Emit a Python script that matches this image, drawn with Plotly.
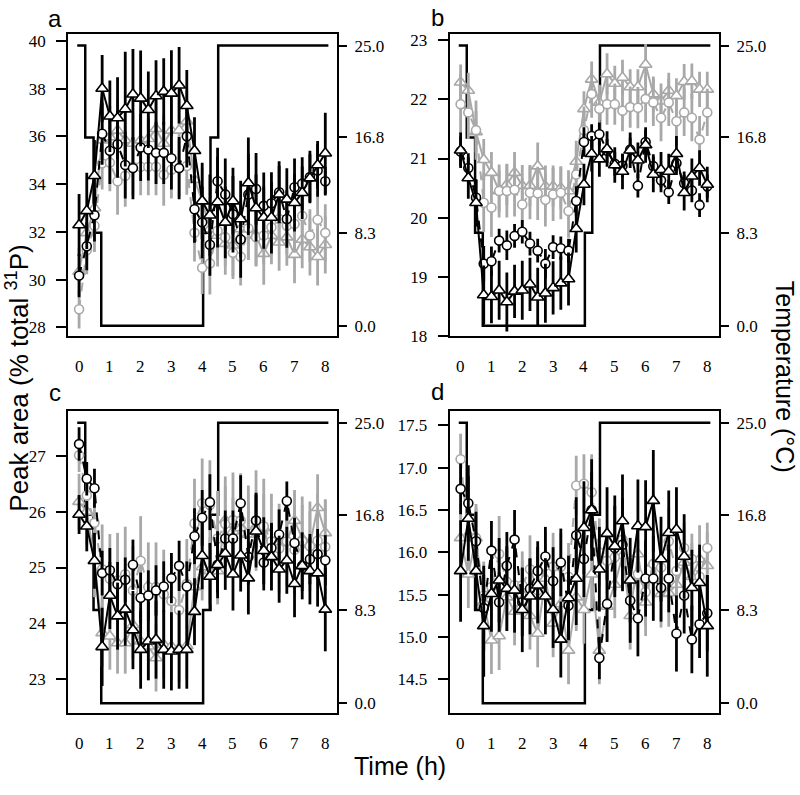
import plotly.graph_objects as go

# ---------------- data ----------------
time_h = [0, 0.25, 0.5, 0.75, 1, 1.25, 1.5, 1.75, 2, 2.25, 2.5, 2.75, 3, 3.25, 3.5, 3.75,
          4, 4.25, 4.5, 4.75, 5, 5.25, 5.5, 5.75, 6, 6.25, 6.5, 6.75, 7, 7.25, 7.5, 7.75, 8]
x_ticks = [0, 1, 2, 3, 4, 5, 6, 7, 8]

temp_time = [-0.06, 0.2, 0.47, 0.72, 4.03, 4.27, 4.52, 8.1]
temp_val = [25.0, 16.8, 8.3, 0.0, 8.3, 16.8, 25.0, 25.0]
temp_ticks = [0.0, 8.3, 16.8, 25.0]
temp_ticktext = ["0.0", "8.3", "16.8", "25.0"]

# panel a
a_bt = [32.29, 32.88, 34.35, 38.0, 36.84, 36.77, 37.14, 37.76, 37.59, 37.11, 37.69, 37.87, 37.80, 38.14, 37.28, 35.40,
        33.29, 32.70, 33.25, 32.40, 33.29, 32.54, 34.05, 33.0, 32.60, 32.60, 33.57, 33.36, 33.22, 33.64, 34.25, 34.80, 35.29]
a_bt_err = [1.3, 1.6, 1.5, 1.4, 1.5, 1.7, 2.4, 1.9, 2.0, 1.6, 1.5, 1.4, 1.8, 1.6, 1.5, 1.4,
            1.6, 1.7, 1.9, 1.5, 1.4, 1.6, 1.9, 1.4, 1.3, 1.5, 1.2, 1.3, 1.2, 1.1, 1.0, 1.0, 1.7]
a_bc = [30.17, 31.40, 32.70, 36.11, 35.40, 35.67, 34.80, 34.67, 35.53, 35.45, 35.31, 35.31, 35.08, 34.67, 36.0, 32.95,
        32.40, 31.46, 34.12, 33.57, 32.74, 31.68, 33.57, 33.80, 33.09, 33.20, 33.66, 32.54, 33.87, 34.02, 34.30, 34.57, 34.12]
a_bc_err = [0.9, 1.0, 1.1, 1.3, 1.4, 1.4, 1.4, 1.3, 1.4, 1.3, 1.3, 1.3, 1.3, 1.3, 1.3, 1.4,
            1.5, 1.3, 1.4, 1.5, 1.6, 1.6, 1.7, 1.5, 1.4, 1.3, 1.3, 1.2, 1.2, 1.1, 1.1, 1.1, 0.6]
a_gc = [28.76, 31.23, 32.26, 34.87, 34.90, 34.12, 34.35, 34.73, 34.73, 34.73, 34.73, 34.39, 34.60, 34.67, 34.76, 31.96,
        30.50, 30.68, 32.05, 31.78, 31.13, 30.96, 32.15, 31.78, 31.85, 32.19, 32.54, 32.26, 32.33, 32.67, 31.85, 32.51, 31.96]
a_gc_err = [0.8, 1.0, 1.1, 1.1, 1.2, 1.4, 1.3, 1.2, 1.2, 1.2, 1.2, 1.3, 1.2, 1.2, 1.2, 1.2,
            1.1, 1.3, 1.2, 1.2, 1.1, 1.2, 1.3, 1.2, 1.2, 1.2, 1.1, 1.2, 1.2, 1.2, 1.1, 1.2, 1.2]
a_gt = [30.34, 31.96, 33.0, 35.84, 35.97, 36.25, 35.84, 35.70, 35.84, 35.90, 36.32, 35.70, 36.25, 36.25, 36.63, 34.19,
        33.29, 32.12, 31.85, 31.51, 31.44, 32.12, 32.12, 31.85, 31.09, 31.85, 31.57, 31.78, 31.05, 31.68, 31.37, 30.96, 31.46]
a_gt_err = [1.0, 1.1, 1.2, 1.2, 1.3, 1.3, 1.3, 1.3, 1.3, 1.2, 1.3, 1.2, 1.3, 1.3, 1.3, 1.3,
            1.4, 1.3, 1.3, 1.3, 1.3, 1.2, 1.3, 1.3, 1.3, 1.2, 1.2, 1.2, 1.2, 1.2, 1.2, 1.2, 1.2]

# panel b
b_bt = [21.14, 20.67, 20.25, 18.69, 18.66, 18.77, 18.57, 18.75, 18.77, 18.87, 18.65, 18.72, 18.81, 18.89, 18.96, 19.81,
        20.56, 21.08, 20.99, 21.16, 20.89, 20.78, 21.14, 20.97, 21.23, 20.73, 20.81, 20.78, 21.08, 20.42, 20.70, 20.84, 20.56]
b_bt_err = [0.3, 0.35, 0.4, 0.5, 0.45, 0.5, 0.5, 0.45, 0.5, 0.45, 0.5, 0.5, 0.45, 0.45, 0.45, 0.4,
            0.35, 0.3, 0.3, 0.3, 0.3, 0.3, 0.3, 0.3, 0.3, 0.3, 0.3, 0.3, 0.3, 0.3, 0.3, 0.3, 0.3]
b_bc = [21.12, 20.84, 20.34, 19.22, 19.26, 19.61, 19.53, 19.69, 19.76, 19.56, 19.44, 19.22, 19.50, 19.48, 19.44, 20.28,
        21.28, 21.38, 21.41, 21.13, 20.91, 20.88, 21.15, 20.54, 21.28, 20.87, 20.63, 20.43, 20.92, 20.58, 20.46, 20.21, 20.53]
b_bc_err = [0.25, 0.25, 0.3, 0.3, 0.25, 0.2, 0.25, 0.2, 0.2, 0.2, 0.2, 0.25, 0.2, 0.2, 0.2, 0.25,
            0.25, 0.2, 0.2, 0.2, 0.2, 0.2, 0.2, 0.2, 0.2, 0.2, 0.2, 0.2, 0.2, 0.2, 0.2, 0.2, 0.2]
b_gc = [21.92, 21.78, 21.48, 20.25, 20.17, 20.45, 20.45, 20.47, 20.22, 20.42, 20.41, 20.30, 20.39, 20.42, 20.11, 20.73,
        21.48, 22.09, 21.84, 21.92, 21.92, 21.81, 21.87, 21.86, 22.01, 21.95, 21.69, 21.95, 21.63, 21.78, 21.69, 21.32, 21.78]
b_gc_err = [0.5, 0.45, 0.5, 0.5, 0.5, 0.45, 0.45, 0.45, 0.45, 0.45, 0.45, 0.45, 0.45, 0.45, 0.45, 0.45,
            0.4, 0.4, 0.4, 0.35, 0.35, 0.35, 0.35, 0.35, 0.4, 0.4, 0.4, 0.4, 0.4, 0.4, 0.4, 0.4, 0.4]
b_gt = [22.29, 22.15, 21.45, 20.98, 20.76, 20.45, 20.56, 20.76, 20.54, 20.54, 20.87, 20.53, 20.53, 20.50, 20.45, 20.95,
        21.84, 22.34, 21.95, 22.43, 22.27, 22.37, 22.21, 22.21, 22.59, 22.09, 21.97, 22.15, 22.06, 22.30, 22.31, 22.17, 22.17]
b_gt_err = [0.3, 0.3, 0.35, 0.35, 0.35, 0.35, 0.35, 0.35, 0.35, 0.35, 0.4, 0.35, 0.35, 0.35, 0.35, 0.35,
            0.3, 0.3, 0.3, 0.35, 0.3, 0.3, 0.3, 0.3, 0.35, 0.3, 0.3, 0.3, 0.3, 0.3, 0.3, 0.3, 0.3]

# panel c
c_bt = [25.95, 25.74, 25.12, 23.58, 24.50, 24.13, 24.25, 23.88, 23.53, 23.68, 23.71, 23.53, 23.50, 23.53, 23.53, 24.21,
        25.21, 24.84, 25.05, 25.25, 24.88, 25.22, 24.81, 25.65, 25.30, 25.19, 24.97, 25.13, 24.71, 25.03, 24.94, 24.90, 24.25]
c_bt_err = [0.35, 0.45, 0.5, 0.7, 0.6, 0.6, 0.65, 0.7, 0.7, 0.7, 0.7, 0.7, 0.7, 0.7, 0.7, 0.6,
            0.6, 0.6, 0.6, 0.65, 0.65, 0.65, 0.65, 0.65, 0.6, 0.6, 0.6, 0.6, 0.6, 0.6, 0.6, 0.6, 0.75]
c_bc = [27.21, 26.59, 26.42, 24.90, 24.95, 24.70, 24.78, 25.05, 24.46, 24.50, 24.59, 24.66, 24.81, 25.03, 24.66, 25.56,
        25.89, 26.17, 25.05, 25.52, 25.52, 26.15, 25.19, 25.84, 25.09, 25.35, 25.59, 26.19, 25.44, 25.03, 25.15, 25.24, 25.13]
c_bc_err = [0.3, 0.3, 0.35, 0.4, 0.4, 0.4, 0.4, 0.45, 0.45, 0.45, 0.45, 0.45, 0.45, 0.45, 0.45, 0.5,
            0.5, 0.5, 0.5, 0.5, 0.5, 0.5, 0.5, 0.5, 0.5, 0.45, 0.45, 0.35, 0.45, 0.45, 0.45, 0.45, 0.45]
c_gc = [27.01, 26.29, 25.80, 24.97, 24.80, 24.77, 24.88, 24.59, 25.12, 24.65, 24.65, 24.52, 24.40, 24.24, 24.71, 25.79,
        26.15, 26.12, 25.52, 25.78, 25.85, 25.84, 25.62, 25.84, 25.74, 25.47, 25.34, 25.47, 25.32, 25.47, 25.38, 25.48, 25.37]
c_gc_err = [0.3, 0.4, 0.6, 0.8, 0.8, 0.85, 0.85, 0.8, 0.8, 0.8, 0.8, 0.8, 0.8, 0.8, 0.8, 0.8,
            0.8, 0.8, 0.85, 0.85, 0.85, 0.85, 0.85, 0.9, 0.85, 0.85, 0.8, 0.8, 0.8, 0.8, 0.8, 0.85, 0.85]
c_gt = [26.18, 26.0, 25.12, 23.83, 23.77, 23.65, 23.65, 23.97, 23.68, 23.59, 23.38, 23.62, 23.59, 23.56, 23.60, 24.65,
        25.01, 24.94, 24.94, 25.85, 25.65, 25.71, 25.59, 25.74, 25.71, 25.19, 25.44, 25.47, 25.84, 25.52, 25.41, 26.07, 25.62]
c_gt_err = [0.5, 0.6, 0.65, 0.6, 0.6, 0.55, 0.55, 0.6, 0.6, 0.6, 0.6, 0.6, 0.6, 0.6, 0.6, 0.6,
            0.6, 0.6, 0.6, 0.6, 0.6, 0.6, 0.6, 0.6, 0.6, 0.6, 0.6, 0.6, 0.55, 0.6, 0.6, 0.6, 0.6]

# panel d
d_bt = [15.78, 16.40, 15.78, 15.13, 15.51, 15.67, 15.57, 15.55, 15.32, 15.48, 15.61, 15.48, 15.32, 14.97, 15.46, 15.69,
        16.29, 16.50, 15.80, 16.22, 16.07, 16.37, 15.67, 16.31, 16.30, 16.61, 15.92, 16.23, 16.27, 15.95, 15.58, 15.64, 15.13]
d_bt_err = [0.6, 0.5, 0.45, 0.6, 0.45, 0.5, 0.5, 0.5, 0.5, 0.45, 0.45, 0.45, 0.45, 0.45, 0.5, 0.55,
            0.55, 0.6, 0.5, 0.55, 0.6, 0.55, 0.5, 0.55, 0.55, 0.6, 0.5, 0.5, 0.5, 0.5, 0.45, 0.45, 0.6]
d_bc = [16.75, 16.58, 16.13, 15.34, 16.02, 15.41, 15.84, 16.15, 15.41, 15.57, 15.78, 15.95, 15.66, 15.88, 15.37, 16.20,
        15.92, 16.50, 14.75, 15.39, 16.05, 16.09, 15.43, 15.22, 15.69, 15.69, 15.58, 15.69, 15.04, 15.49, 14.97, 15.15, 15.28]
d_bc_err = [0.3, 0.45, 0.35, 0.5, 0.35, 0.35, 0.4, 0.35, 0.4, 0.35, 0.35, 0.35, 0.4, 0.4, 0.4, 0.45,
            0.45, 0.45, 0.25, 0.45, 0.5, 0.55, 0.5, 0.45, 0.45, 0.5, 0.4, 0.4, 0.45, 0.45, 0.4, 0.4, 0.45]
d_gc = [17.10, 16.19, 16.17, 15.49, 15.59, 15.98, 15.65, 15.61, 15.61, 15.80, 15.55, 15.84, 15.83, 15.83, 15.71, 16.79,
        16.81, 16.71, 16.00, 15.90, 15.94, 16.15, 15.43, 15.74, 15.53, 15.86, 15.82, 16.13, 15.78, 16.05, 15.92, 15.71, 16.05]
d_gc_err = [0.3, 0.35, 0.35, 0.4, 0.4, 0.45, 0.4, 0.4, 0.4, 0.4, 0.4, 0.4, 0.4, 0.4, 0.4, 0.35,
            0.35, 0.45, 0.4, 0.4, 0.4, 0.4, 0.4, 0.4, 0.4, 0.4, 0.4, 0.4, 0.4, 0.3, 0.3, 0.3, 0.3]
d_gt = [16.17, 15.74, 16.17, 15.41, 14.96, 15.01, 15.47, 15.30, 15.50, 15.25, 15.04, 15.69, 15.16, 15.39, 14.84, 15.47,
        15.32, 15.74, 14.84, 15.36, 15.62, 15.96, 15.25, 15.98, 15.41, 15.87, 15.51, 15.52, 15.62, 15.88, 15.71, 15.92, 15.84]
d_gt_err = [0.4, 0.4, 0.4, 0.4, 0.4, 0.4, 0.4, 0.4, 0.4, 0.4, 0.4, 0.4, 0.4, 0.4, 0.4, 0.4,
            0.4, 0.4, 0.4, 0.4, 0.4, 0.4, 0.4, 0.4, 0.4, 0.4, 0.4, 0.4, 0.4, 0.4, 0.4, 0.4, 0.4]

panel_labels = ["a", "b", "c", "d"]
a_ticks = [28, 30, 32, 34, 36, 38, 40]
b_ticks = [18, 19, 20, 21, 22, 23]
c_ticks = [23, 24, 25, 26, 27]
d_ticks = [14.5, 15.0, 15.5, 16.0, 16.5, 17.0, 17.5]

# ---------------- layout geometry ----------------
W, H = 800, 795
BLACK = "#000000"
GRAY = "#a8a8a8"
SERIF = "Liberation Serif, Times New Roman, serif"
SANS = "Liberation Sans, Arial, sans-serif"

panels = [
    dict(series=[(a_gt, a_gt_err), (a_gc, a_gc_err), (a_bc, a_bc_err), (a_bt, a_bt_err)],
         xpx=(68, 337), ypx=(32.3, 339), yr=[27.63, 40.29], ticks=a_ticks, fmt="d", y2r=[-0.95, 26.05], xlab_y=370),
    dict(series=[(b_gt, b_gt_err), (b_gc, b_gc_err), (b_bc, b_bc_err), (b_bt, b_bt_err)],
         xpx=(449.5, 719), ypx=(32.3, 339), yr=[17.99, 23.11], ticks=b_ticks, fmt="d", y2r=[-0.95, 26.05], xlab_y=370),
    dict(series=[(c_gt, c_gt_err), (c_gc, c_gc_err), (c_bc, c_bc_err), (c_bt, c_bt_err)],
         xpx=(68, 337), ypx=(414.3, 721), yr=[22.395, 27.81], ticks=c_ticks, fmt="d", y2r=[-0.88, 26.09], xlab_y=752),
    dict(series=[(d_gt, d_gt_err), (d_gc, d_gc_err), (d_bc, d_bc_err), (d_bt, d_bt_err)],
         xpx=(449.5, 719), ypx=(414.3, 721), yr=[14.1, 17.675], ticks=d_ticks, fmt=".1f", y2r=[-0.88, 26.09], xlab_y=752),
]

styles = [  # gray triangles, gray circles, black circles, black triangles
    dict(color=GRAY, symbol="triangle-up", size=11, dash="solid"),
    dict(color=GRAY, symbol="circle", size=9, dash="dash"),
    dict(color=BLACK, symbol="circle", size=9, dash="dash"),
    dict(color=BLACK, symbol="triangle-up", size=11, dash="solid"),
]

fig = go.Figure()
layout = dict(width=W, height=H, margin=dict(l=0, r=0, t=0, b=0),
              paper_bgcolor="white", plot_bgcolor="rgba(0,0,0,0)", showlegend=False)
annotations = []

for k, p in enumerate(panels, start=1):
    xa = "x" if k == 1 else f"x{k}"
    ya_t = "y" if k == 1 else f"y{k}"      # temperature (base)
    ya_d = f"y{k + 4}"                       # data (overlay)
    xd = [p["xpx"][0] / W, p["xpx"][1] / W]
    yd = [1 - p["ypx"][1] / H, 1 - p["ypx"][0] / H]

    fig.add_trace(go.Scatter(x=temp_time, y=temp_val, mode="lines", line=dict(color=BLACK, width=2.5, shape="hv"),
                             xaxis=xa, yaxis=ya_t, hoverinfo="skip"))
    for (vals, errs), st in zip(p["series"], styles):
        fig.add_trace(go.Scatter(
            x=time_h, y=vals, mode="lines+markers", xaxis=xa, yaxis=ya_d,
            line=dict(color=st["color"], width=2, dash=st["dash"]),
            marker=dict(symbol=st["symbol"], size=st["size"], color="white",
                        line=dict(color=st["color"], width=1.6)),
            error_y=dict(type="data", array=errs, visible=True, color=st["color"], thickness=2.8, width=0),
        ))

    xkey = "xaxis" if k == 1 else f"xaxis{k}"
    ytkey = "yaxis" if k == 1 else f"yaxis{k}"
    ydkey = f"yaxis{k + 4}"
    layout[xkey] = dict(domain=xd, range=[-0.36, 8.38], anchor=ya_t, showline=True, mirror=True,
                        linecolor=BLACK, linewidth=1.5, ticks="", showticklabels=False,
                        showgrid=False, zeroline=False, fixedrange=True)
    layout[ytkey] = dict(domain=yd, range=p["y2r"], anchor=xa, side="right", tickvals=temp_ticks,
                         ticktext=temp_ticktext, ticks="outside", ticklen=9, tickwidth=1.5, tickcolor=BLACK,
                         ticklabelstandoff=4,
                         tickfont=dict(family=SERIF, size=17, color=BLACK), showline=False,
                         showgrid=False, zeroline=False)
    layout[ydkey] = dict(overlaying=ya_t, anchor=xa, side="left", range=p["yr"], tickvals=p["ticks"],
                         tickformat=p["fmt"], ticks="outside", ticklen=10, tickwidth=1.5, tickcolor=BLACK,
                         ticklabelstandoff=7,
                         tickfont=dict(family=SERIF, size=17, color=BLACK), showline=True, mirror=True,
                         linecolor=BLACK, linewidth=1.5, showgrid=False, zeroline=False)
    # x tick labels (placed on the panel's x scale, below the frame)
    for t in x_ticks:
        annotations.append(dict(text=str(t), x=t, xref=xa, y=1 - p["xlab_y"] / H, yref="paper",
                                showarrow=False, xanchor="center", yanchor="middle",
                                font=dict(family=SERIF, size=17, color=BLACK)))

label_pos = [(55, 2), (437, 1), (55, 381), (437, 380)]
for lab, (px, py) in zip(panel_labels, label_pos):
    annotations.append(dict(text=lab, x=px / W, y=1 - py / H, xref="paper", yref="paper",
                            showarrow=False, xanchor="center", yanchor="top", borderpad=0,
                            font=dict(family=SANS, size=24, color=BLACK)))

annotations.append(dict(text="Peak area (% total <sup>31</sup>P)", x=18 / W, y=1 - 382 / H, xref="paper", yref="paper",
                        showarrow=False, textangle=-90, xanchor="center", yanchor="middle", borderpad=0,
                        font=dict(family=SANS, size=26, color=BLACK)))
annotations.append(dict(text="Temperature (°C)", x=785 / W, y=1 - 380 / H, xref="paper", yref="paper",
                        showarrow=False, textangle=90, xanchor="center", yanchor="middle", borderpad=0,
                        font=dict(family=SANS, size=25, color=BLACK)))
annotations.append(dict(text="Time (h)", x=400 / W, y=1 - 775 / H, xref="paper", yref="paper",
                        showarrow=False, xanchor="center", yanchor="middle",
                        font=dict(family=SANS, size=25, color=BLACK)))
layout["annotations"] = annotations

fig.update_layout(**layout)
fig.write_html("out.html", config={"displayModeBar": False},
               post_script="document.body.style.margin='0px';document.body.style.padding='0px';")
